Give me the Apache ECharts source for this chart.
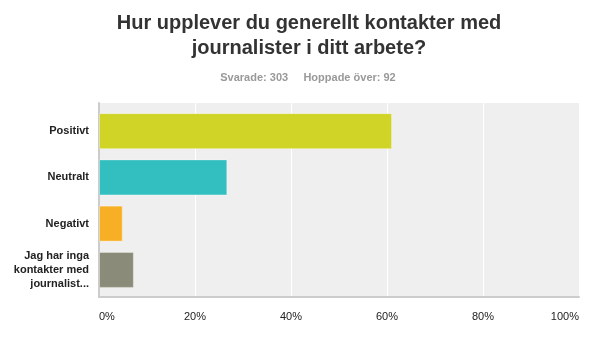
<!DOCTYPE html>
<html>
<head>
<meta charset="utf-8">
<script src="https://cdn.jsdelivr.net/npm/echarts@6/dist/echarts.min.js"></script>
<style>
  html, body { margin: 0; padding: 0; background: #fff; }
  #main { width: 608px; height: 352px; }
</style>
</head>
<body>
<div id="main"></div>
<script>
// answers and share of respondents (%), 303 answered
const categories = ['Positivt', 'Neutralt', 'Negativt', 'Jag har inga\nkontakter med\njournalist...']
const values = [61.06, 26.73, 4.95, 7.26]
const colors = ['#cfd427', '#33bec0', '#f7b025', '#8b8b79']
const xTicks = [0, 20, 40, 60, 80, 100]

const font = '"Liberation Sans", Arial, sans-serif'
const chart = echarts.init(document.getElementById('main'))

// grid 0 = grey plot background with ticks, grid 1 = bars (padded inside)
const option = {
  animation: false,
  graphic: [
    {
      type: 'text', x: 309, y: 11,
      style: {
        text: 'Hur upplever du generellt kontakter med\njournalister i ditt arbete?',
        align: 'center', verticalAlign: 'top',
        font: 'bold 20px ' + font, fill: '#333', lineHeight: 25
      }
    },
    {
      type: 'text', x: 308, y: 72,
      style: {
        text: 'Svarade: 303     Hoppade över: 92',
        align: 'center', verticalAlign: 'top',
        font: 'bold 11px ' + font, fill: '#999'
      }
    }
  ],
  grid: [
    { left: 99, right: 29, top: 103, bottom: 55, show: true, backgroundColor: '#efefef', borderWidth: 0 },
    { left: 99, right: 29, top: 108, bottom: 59 }
  ],
  xAxis: [
    {
      gridIndex: 0,
      type: 'value',
      min: xTicks[0],
      max: xTicks[xTicks.length - 1],
      interval: 20,
      axisLine: { show: true, lineStyle: { color: '#cccccc', width: 2 } },
      axisTick: { show: false },
      splitLine: { show: true, lineStyle: { color: '#ffffff', width: 1 } },
      axisLabel: {
        formatter: '{value}%', margin: 14,
        alignMinLabel: 'left', alignMaxLabel: 'right',
        fontFamily: font, fontSize: 11, color: '#222'
      }
    },
    {
      gridIndex: 1,
      type: 'value',
      min: xTicks[0],
      max: xTicks[xTicks.length - 1],
      show: false
    }
  ],
  yAxis: [
    {
      gridIndex: 0,
      type: 'value',
      axisLine: { show: true, lineStyle: { color: '#cccccc', width: 2 } },
      axisTick: { show: false },
      axisLabel: { show: false },
      splitLine: { show: false }
    },
    {
      gridIndex: 1,
      type: 'category',
      inverse: true,
      data: categories,
      axisLine: { show: false },
      axisTick: { show: false },
      axisLabel: {
        margin: 10, fontFamily: font, fontSize: 11, fontWeight: 'bold',
        color: '#222', lineHeight: 14, align: 'right'
      }
    }
  ],
  series: [{
    type: 'bar',
    xAxisIndex: 1,
    yAxisIndex: 1,
    barWidth: 36,
    data: values.map((v, i) => ({
      value: v,
      itemStyle: { color: colors[i], borderColor: 'rgba(255,255,255,0.35)', borderWidth: 1 }
    }))
  }]
}

chart.setOption(option)
</script>
</body>
</html>
